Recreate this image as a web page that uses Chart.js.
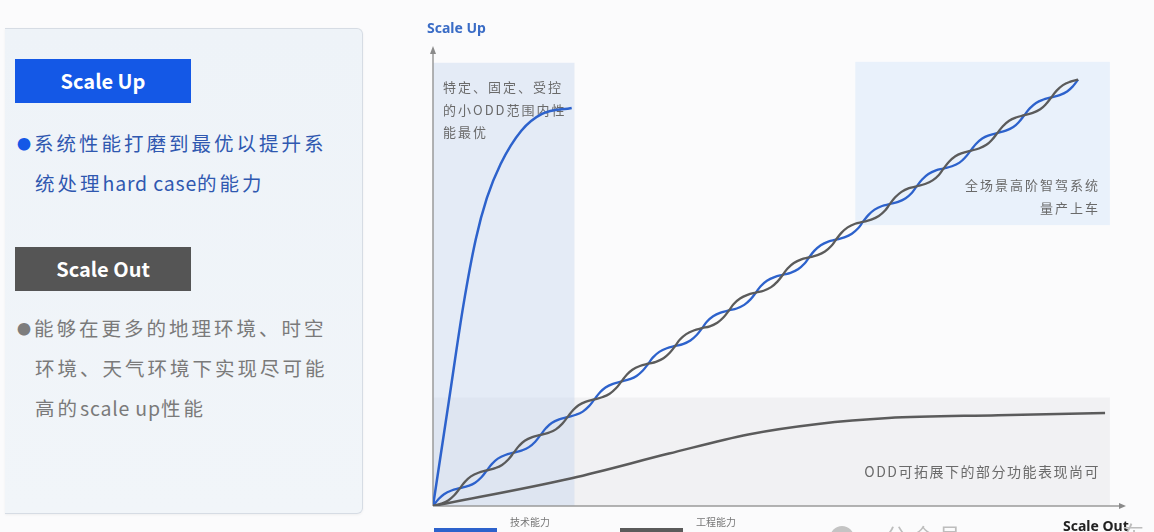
<!DOCTYPE html>
<html lang="zh">
<head>
  <meta charset="UTF-8">
  <title>Scale Up / Scale Out</title>
  <script src="https://cdn.jsdelivr.net/npm/chart.js"></script>
  <style>
    body { margin: 0; width: 1154px; height: 532px; overflow: hidden; background: #fbfbfc; font-family: "Noto Sans CJK SC", "Noto Sans", sans-serif; position: relative; }
    .panel { position: absolute; left: 5px; top: 28px; width: 357px; height: 484px; border: 1px solid #d6dce4; border-left: none; border-radius: 0 6px 6px 0; background: linear-gradient(180deg, #eef3f8 0%, #f1f5f9 100%); box-shadow: 0 1px 3px rgba(0,0,0,0.05); }
    .tag { position: absolute; left: 10px; width: 176px; height: 44px; color: white; font-weight: bold; font-size: 20px; line-height: 44px; text-align: center; }
    .tag.up { top: 30px; background: #1458e6; }
    .tag.out { top: 218px; background: #555555; }
    .txt { position: absolute; left: 12px; width: 350px; font-size: 19.5px; line-height: 40px; letter-spacing: 3px; }
    .txt.up { top: 94px; color: #2f58b0; }
    .txt.out { top: 279px; color: #7a7a7a; }
    .txt .b { font-size: 14px; letter-spacing: 0; margin-right: 3px; vertical-align: 2px; }
    .txt.up .b { color: #1458e6; }
    .txt.out .b { color: #7d7d7d; }
    .txt .en { letter-spacing: 0.8px; }
    .ind { padding-left: 18px; }
    #chart { position: absolute; left: 0; top: 0; }
  </style>
</head>
<body>
<div class="panel">
  <div class="tag up">Scale Up</div>
  <div class="txt up"><span class="b">●</span>系统性能打磨到最优以提升系<br><span class="ind">统处理<span class="en">hard case</span>的能力</span></div>
  <div class="tag out">Scale Out</div>
  <div class="txt out"><span class="b">●</span>能够在更多的地理环境、时空<br><span class="ind">环境、天气环境下实现尽可能</span><br><span class="ind">高的<span class="en">scale up</span>性能</span></div>
</div>
<canvas id="chart" width="1154" height="532"></canvas>

<script>
  // steep blue curve: small ODD, saturates early
  const steepX = [0, 2.3, 4.4, 6.2, 7.8, 9.8, 12.8, 15.8, 20.1];
  const steepY = [0, 23, 44, 58.5, 67.5, 75, 82.3, 86, 87.3];

  // twisted pair along the diagonal: position along it (x units) and
  // perpendicular offset of the blue strand in px (gray strand is mirrored)
  const twistPos = [0, 1.0, 1.9, 2.9, 3.9, 4.9, 5.8, 6.8, 7.8, 8.8,
    9.7, 10.7, 11.7, 12.7, 13.6, 14.6, 15.6, 16.6, 17.5, 18.5,
    19.5, 20.5, 21.4, 22.4, 23.4, 24.4, 25.3, 26.3, 27.3, 28.3,
    29.2, 30.2, 31.2, 32.1, 33.1, 34.1, 35.1, 36.0, 37.0, 38.0,
    39.0, 39.9, 40.9, 41.9, 42.9, 43.8, 44.8, 45.8, 46.8, 47.7,
    48.7, 49.7, 50.7, 51.6, 52.6, 53.6, 54.5, 55.5, 56.5, 57.5,
    58.4, 59.4, 60.4, 61.4, 62.3, 63.3, 64.3, 65.3, 66.2, 67.2,
    68.2, 69.2, 70.1, 71.1, 72.1, 73.1, 74.0, 75.0, 76.0, 76.9,
    77.9, 78.9, 79.9, 80.8, 81.8, 82.8, 83.8, 84.7, 85.7, 86.7,
    87.7, 88.6, 89.6, 90.6, 91.6, 92.5, 93.5];
  const twistOff = [0, 2.7, 3.8, 2.7, 0, -2.7, -3.8, -2.7,
    0, 2.7, 3.8, 2.7, 0, -2.7, -3.8, -2.7,
    0, 2.7, 3.8, 2.7, 0, -2.7, -3.8, -2.7,
    0, 2.7, 3.8, 2.7, 0, -2.7, -3.8, -2.7,
    0, 2.7, 3.8, 2.7, 0, -2.7, -3.8, -2.7,
    0, 2.7, 3.8, 2.7, 0, -2.7, -3.8, -2.7,
    0, 2.7, 3.8, 2.7, 0, -2.7, -3.8, -2.7,
    0, 2.7, 3.8, 2.7, 0, -2.7, -3.8, -2.7,
    0, 2.7, 3.8, 2.7, 0, -2.7, -3.8, -2.7,
    0, 2.7, 3.8, 2.7, 0, -2.7, -3.8, -2.7,
    0, 2.7, 3.8, 2.7, 0, -2.7, -3.8, -2.7,
    0, 2.7, 3.8, 2.7, 0, -2.7, -3.8, -2.7, 0];

  // flat gray curve: partial functions across expandable ODD
  const lowX = [0, 20.1, 34.2, 45.7, 55.8, 66, 81.9, 97.4];
  const lowY = [0, 6.1, 11.5, 15.7, 18.0, 19.3, 19.9, 20.4];

  const legendLabels = ['技术能力', '工程能力'];
  const BLUE = '#2d62cc', GRAY = '#5b5b5b';
  const PAD = { left: 433, top: 50, right: 31, bottom: 26 };

  const pts = (xs, ys) => xs.map((x, i) => ({ x: x, y: ys[i] }));

  // px per unit of the plot area, used to turn a px offset into data units
  const pxX = (1154 - PAD.left - PAD.right) / 100;
  const pxY = (532 - PAD.top - PAD.bottom) / 100;
  const len = Math.hypot(pxX, pxY);
  const strand = sign => twistPos.map((s, i) => {
    const d = sign * twistOff[i];
    return { x: s - (pxY / len) * d / pxX, y: s + (pxX / len) * d / pxY };
  });

  const decor = {
    id: 'decor',
    beforeDatasetsDraw(chart) {
      const ctx = chart.ctx, x = chart.scales.x, y = chart.scales.y;
      const box = (x0, x1, y0, y1, c) => {
        ctx.fillStyle = c;
        ctx.fillRect(x.getPixelForValue(x0), y.getPixelForValue(y1),
          x.getPixelForValue(x1) - x.getPixelForValue(x0), y.getPixelForValue(y0) - y.getPixelForValue(y1));
      };
      ctx.save();
      box(0, 98.1, 0, 23.8, '#f1f1f3');
      box(61.2, 98.1, 61.6, 97.4, '#e9f1fb');
      box(0, 20.5, 0, 97.2, 'rgba(200,214,240,0.45)');

      // axes with arrows
      const ox = x.getPixelForValue(0), oy = y.getPixelForValue(0);
      const a = chart.chartArea;
      ctx.strokeStyle = '#9a9a9a'; ctx.fillStyle = '#8a8a8a'; ctx.lineWidth = 1.5;
      ctx.beginPath(); ctx.moveTo(ox, oy); ctx.lineTo(ox, a.top + 2); ctx.stroke();
      ctx.beginPath(); ctx.moveTo(ox, oy); ctx.lineTo(a.right - 2, oy); ctx.stroke();
      ctx.beginPath(); ctx.moveTo(ox, a.top - 4); ctx.lineTo(ox - 3, a.top + 4); ctx.lineTo(ox + 3, a.top + 4); ctx.fill();
      ctx.beginPath(); ctx.moveTo(a.right + 3, oy); ctx.lineTo(a.right - 4, oy - 3); ctx.lineTo(a.right - 4, oy + 3); ctx.fill();

      // annotations
      ctx.font = '13px "Noto Sans CJK SC"';
      ctx.letterSpacing = '2px';
      ctx.fillStyle = '#6a6a6a';
      ctx.textBaseline = 'middle';
      ctx.textAlign = 'left';
      ctx.fillText('特定、固定、受控', 443, 87);
      ctx.fillText('的小ODD范围内性', 443, 110);
      ctx.fillText('能最优', 443, 132);
      ctx.textAlign = 'right';
      ctx.fillText('全场景高阶智驾系统', 1100, 185);
      ctx.fillText('量产上车', 1100, 208);
      ctx.font = '14px "Noto Sans CJK SC"';
      ctx.letterSpacing = '1.5px';
      ctx.fillText('ODD可拓展下的部分功能表现尚可', 1100, 472);
      ctx.restore();
    },
    afterDraw(chart) {
      const ctx = chart.ctx;
      ctx.save();
      ctx.textBaseline = 'middle';
      ctx.font = 'bold 14px "Noto Sans", "Open Sans"';
      ctx.fillStyle = '#3a6cc6';
      ctx.textAlign = 'left';
      ctx.fillText('Scale Up', 427, 29);
      ctx.fillStyle = '#222';
      ctx.fillText('Scale Out', 1063, 527);

      // legend
      const cols = [BLUE, GRAY];
      const lx = [434, 620];
      legendLabels.forEach((t, i) => {
        ctx.fillStyle = cols[i];
        ctx.fillRect(lx[i], 528, 63, 5);
        ctx.fillStyle = '#777';
        ctx.font = '10px "Noto Sans CJK SC"';
        ctx.fillText(t, lx[i] + 76, 522);
      });

      // faint watermark
      ctx.fillStyle = '#c4c4c4';
      ctx.beginPath(); ctx.arc(842, 538, 12, 0, Math.PI * 2); ctx.fill();
      ctx.fillStyle = '#bdbdbd';
      ctx.font = '22px "Noto Sans CJK SC"';
      ctx.fillText('公 众 号', 885, 536);
      ctx.fillText('车', 1122, 534);
      ctx.restore();
    }
  };

  new Chart(document.getElementById('chart'), {
    type: 'line',
    data: {
      datasets: [
        { data: pts(lowX, lowY), borderColor: GRAY, borderWidth: 2.5, cubicInterpolationMode: 'monotone' },
        { data: strand(-1), borderColor: GRAY, borderWidth: 2.3, tension: 0.4 },
        { data: strand(1), borderColor: BLUE, borderWidth: 2.3, tension: 0.4 },
        { data: pts(steepX, steepY), borderColor: BLUE, borderWidth: 2.5, cubicInterpolationMode: 'monotone' }
      ]
    },
    options: {
      responsive: false,
      animation: false,
      layout: { padding: PAD },
      elements: { point: { radius: 0 } },
      scales: {
        x: { type: 'linear', min: 0, max: 100, display: false },
        y: { type: 'linear', min: 0, max: 100, display: false }
      },
      plugins: { legend: { display: false }, tooltip: { enabled: false } }
    },
    plugins: [decor]
  });
</script>
</body>
</html>
